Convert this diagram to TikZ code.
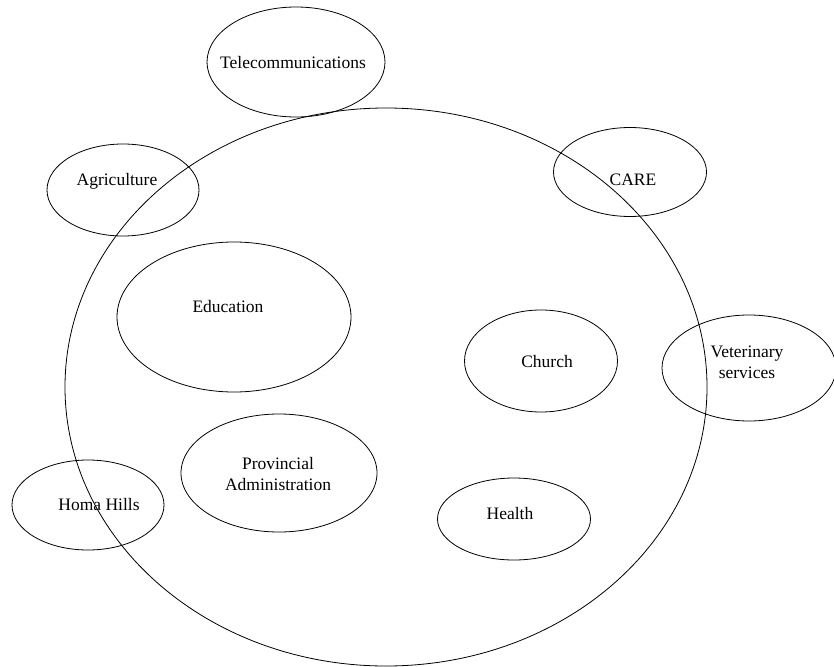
\documentclass[tikz,border=0pt]{standalone}
\usepackage{fontspec}
\setmainfont{Liberation Serif}
\usetikzlibrary{shapes.geometric}
\begin{document}
\begin{tikzpicture}[x=1pt,y=-1pt,
  ring/.style={draw,line width=0.8pt,ellipse,inner sep=0pt},
  lbl/.style={font=\fontsize{17.5}{21}\selectfont,align=center,inner sep=0pt}]
\useasboundingbox (0,0) rectangle (834,666);
% big ellipse
\node[ring,minimum width=642pt,minimum height=558pt] (big) at (386,387) {};
% small ellipses
\node[ring,minimum width=178pt,minimum height=110pt] (tel) at (296,62) {};
\node[ring,minimum width=152pt,minimum height=92pt] (agr) at (123,190) {};
\node[ring,minimum width=153pt,minimum height=89pt] (care) at (630,172) {};
\node[ring,minimum width=234pt,minimum height=150pt] (edu) at (234,317) {};
\node[ring,minimum width=153pt,minimum height=102pt] (chu) at (541,361) {};
\node[ring,minimum width=174pt,minimum height=106pt] (vet) at (749,368) {};
\node[ring,minimum width=196pt,minimum height=118pt] (prov) at (279,473) {};
\node[ring,minimum width=152pt,minimum height=90pt] (homa) at (88,505) {};
\node[ring,minimum width=153pt,minimum height=82pt] (hea) at (514,519) {};
% labels
\node[lbl] (ttel) at (293,63) {Telecommunications};
\node[lbl] (tagr) at (117,181) {Agriculture};
\node[lbl] (tcare) at (633,180) {CARE};
\node[lbl] (tedu) at (228,307) {Education};
\node[lbl] (tchu) at (547,362) {Church};
\node[lbl] (tvet) at (747,362) {Veterinary\\services};
\node[lbl] (tprov) at (278,474) {Provincial\\Administration};
\node[lbl] (thoma) at (99,505) {Homa Hills};
\node[lbl] (thea) at (510,514) {Health};
\end{tikzpicture}
\end{document}
